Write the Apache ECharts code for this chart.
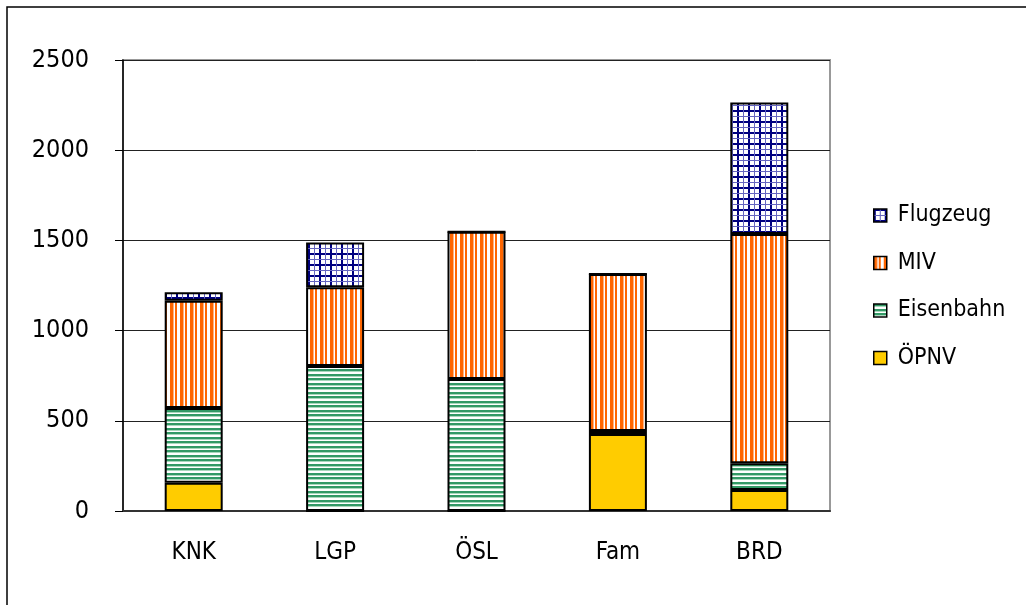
<!DOCTYPE html>
<html><head><meta charset="utf-8">
<script src="https://cdn.jsdelivr.net/npm/echarts@6/dist/echarts.min.js"></script>
<style>html,body{margin:0;padding:0;background:#fff}#c{width:1026px;height:605px}</style>
</head><body><div id="c"></div>
<script>
const categories = ['KNK', 'LGP', 'ÖSL', 'Fam', 'BRD'];
const oepnv = [157, 0, 0, 427, 116];
const eisenbahn = [414, 804, 732, 16, 148];
const miv = [595, 436, 816, 871, 1271];
const flugzeug = [46, 249, 0, 0, 730];
const yTicks = [0, 500, 1000, 1500, 2000, 2500];

function tile(w, h, draw) {
  const c = document.createElement('canvas');
  c.width = w; c.height = h;
  const g = c.getContext('2d');
  g.fillStyle = '#fff'; g.fillRect(0, 0, w, h);
  draw(g);
  return { image: c, repeat: 'repeat' };
}
const hStripe = tile(9, 9, g => {
  g.fillStyle = '#339966'; g.fillRect(0, 0, 9, 2); g.fillRect(0, 5, 9, 2);
  g.fillStyle = '#a8d8bc'; g.fillRect(0, 2, 9, 1); g.fillRect(0, 7, 9, 1);
});
const vStripe = tile(10, 10, g => {
  g.fillStyle = '#ff6600'; g.fillRect(0, 0, 3, 10); g.fillRect(5, 0, 2, 10);
  g.fillStyle = '#ffb27f'; g.fillRect(3, 0, 1, 10);
});
const grid = tile(11, 11, g => {
  g.fillStyle = '#000080'; g.fillRect(0, 0, 11, 2); g.fillRect(0, 0, 2, 11);
  g.fillStyle = '#6666c0'; g.fillRect(0, 6, 11, 1); g.fillRect(6, 0, 1, 11);
});

const FONT = '"DejaVu Sans Condensed", "DejaVu Sans", sans-serif';
const barStyle = { borderColor: '#000', borderWidth: 2 };
function mk(name, data, color) {
  return { name, type: 'bar', stack: 's', data, barWidth: 58,
    itemStyle: Object.assign({ color }, barStyle) };
}
const chart = echarts.init(document.getElementById('c'), null, { renderer: 'canvas' });
chart.setOption({
  animation: false,
  backgroundColor: '#fff',
  textStyle: { fontFamily: FONT },
  graphic: [{ type: 'rect', shape: { x: 7, y: 7, width: 1040, height: 620 },
    style: { fill: 'none', stroke: '#000', lineWidth: 1.5 }, silent: true, z: -1 }],
  grid: { left: 123, right: 196, top: 60, bottom: 94, show: true,
    borderColor: '#999', borderWidth: 2, backgroundColor: '#fff' },
  legend: {
    orient: 'vertical', left: 868, top: 199,
    data: ['Flugzeug', 'MIV', 'Eisenbahn', 'ÖPNV'],
    icon: 'rect',
    itemWidth: 13, itemHeight: 13, itemGap: 24.5,
    itemStyle: { borderColor: '#000', borderWidth: 1.5 },
    textStyle: { fontFamily: FONT, fontSize: 23, color: '#000', lineHeight: 20, padding: [0,0,0,6] }
  },
  xAxis: {
    type: 'category', data: categories,
    axisLine: { lineStyle: { color: '#333', width: 2 } },
    axisTick: { show: false },
    axisLabel: { color: '#000', fontFamily: FONT, fontSize: 24, margin: 30 }
  },
  yAxis: {
    type: 'value', min: yTicks[0], max: yTicks[yTicks.length - 1], interval: 500,
    axisLine: { show: true, lineStyle: { color: '#000', width: 1.5 } },
    axisTick: { show: true, length: 8, lineStyle: { color: '#000' } },
    splitLine: { lineStyle: { color: '#222', width: 1 } },
    axisLabel: { color: '#000', fontFamily: FONT, fontSize: 25, margin: 34,
      formatter: v => String(v) }
  },
  series: [
    mk('ÖPNV', oepnv, '#ffcc00'),
    mk('Eisenbahn', eisenbahn, hStripe),
    mk('MIV', miv, vStripe),
    mk('Flugzeug', flugzeug, grid)
  ]
});
</script></body></html>
